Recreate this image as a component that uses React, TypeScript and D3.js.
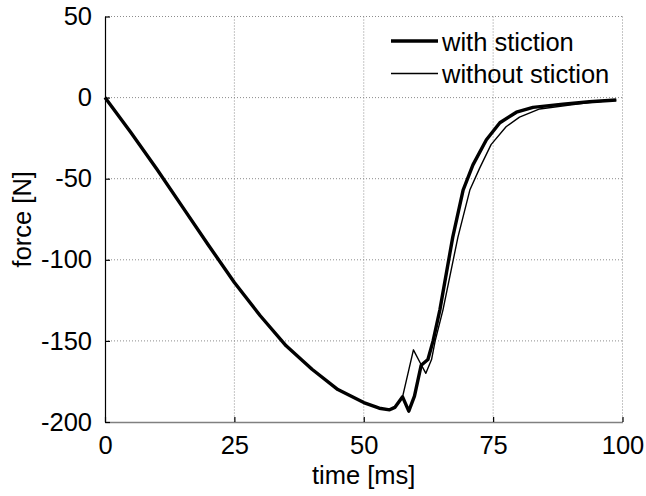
import React from 'react';
import { axisBottom, axisLeft, line, scaleLinear, select } from 'd3';

// with stiction (thick line)
const timeWith = [0, 5, 10, 15, 20, 25, 30, 35, 40, 45, 50, 53, 55, 56, 57.5, 58.7, 59.8, 61.1, 62.4, 63.4, 64.7, 67.2, 69.2, 71.1, 73.7, 76.3, 79.5, 82.7, 88.5, 93.6, 98.8];
const forceWith = [0, -21.5, -44, -67.5, -91, -114, -134.5, -153, -167.5, -180, -188, -191.5, -192.5, -191, -184.5, -193.3, -184, -165, -161.5, -150, -131, -86, -57, -41.5, -26, -15.5, -9, -6, -4, -2.6, -1.5];

// without stiction (thin line)
const timeWithout = [0, 5, 10, 15, 20, 25, 30, 35, 40, 45, 50, 53, 55, 56, 57.5, 59.6, 60.9, 62, 63.1, 63.8, 65.3, 68.2, 70.5, 72.4, 74.6, 77.5, 80.1, 84, 89.8, 93.6, 98.8];
const forceWithout = [0, -21.5, -44, -67.5, -91, -114, -134.5, -153, -167.5, -180, -188, -191.5, -192.5, -191, -184.5, -155.5, -163.5, -170, -161.5, -150, -131, -86, -57, -43.5, -29, -18, -12, -7, -4.6, -3, -1.5];

const xTicks = [0, 25, 50, 75, 100];
const yTicks = [50, 0, -50, -100, -150, -200];
const legendLabels = ['with stiction', 'without stiction'];

const width = 646;
const height = 496;
const marginLeft = 105;
const marginRight = 23.5;
const marginTop = 16.5;
const marginBottom = 74;
const font = 'Arial, "Liberation Sans", Helvetica, sans-serif';
const fontSize = 25.5;

const App = () => {
    const svgRef = React.useRef(null);

    React.useEffect(() => {
        const svgEl = select(svgRef.current);
        svgEl.selectAll('*').remove();

        const innerWidth = width - marginLeft - marginRight;
        const innerHeight = height - marginTop - marginBottom;

        const x = scaleLinear().domain([0, 100]).range([0, innerWidth]);
        const y = scaleLinear().domain([-200, 50]).range([innerHeight, 0]);

        const gEl = svgEl
            .append('g')
            .attr('transform', `translate(${marginLeft},${marginTop})`);

        // dotted grid
        const grid = gEl.append('g').attr('class', 'grid');
        grid.selectAll('.vgrid')
            .data(xTicks.filter((d) => d > 0))
            .enter()
            .append('line')
            .attr('x1', (d) => x(d))
            .attr('x2', (d) => x(d))
            .attr('y1', 0)
            .attr('y2', innerHeight)
            .attr('stroke', '#8c8c8c')
            .attr('stroke-dasharray', '1,2');
        grid.selectAll('.hgrid')
            .data(yTicks.filter((d) => d > -200))
            .enter()
            .append('line')
            .attr('x1', 0)
            .attr('x2', innerWidth)
            .attr('y1', (d) => y(d))
            .attr('y2', (d) => y(d))
            .attr('stroke', '#8c8c8c')
            .attr('stroke-dasharray', '1,2');

        // plain hyphen like the original, not the unicode minus
        const fmt = (d) => String(d);

        // X Axis (ticks inward)
        const xAxisGroup = gEl
            .append('g')
            .attr('transform', `translate(0,${innerHeight})`)
            .call(axisBottom(x).tickValues(xTicks).tickFormat(fmt).tickSizeInner(-5).tickSizeOuter(0).tickPadding(14));
        xAxisGroup.select('.domain').attr('stroke', '#808080').attr('stroke-width', 1.6);
        xAxisGroup.selectAll('line').attr('stroke', '#000').attr('stroke-width', 1.2);
        xAxisGroup.selectAll('text')
            .attr('font-family', font)
            .attr('font-size', fontSize)
            .attr('fill', '#000');

        // Y Axis (ticks inward)
        const yAxisGroup = gEl
            .append('g')
            .call(axisLeft(y).tickValues(yTicks).tickFormat(fmt).tickSizeInner(-5).tickSizeOuter(0).tickPadding(13));
        yAxisGroup.select('.domain').attr('stroke', '#000').attr('stroke-width', 1.2);
        yAxisGroup.selectAll('line').attr('stroke', '#000').attr('stroke-width', 1.2);
        yAxisGroup.selectAll('text')
            .attr('font-family', font)
            .attr('font-size', fontSize)
            .attr('fill', '#000');

        // axis titles
        svgEl.append('text')
            .attr('x', marginLeft + innerWidth / 2)
            .attr('y', 484)
            .attr('text-anchor', 'middle')
            .attr('font-family', font)
            .attr('font-size', fontSize)
            .text('time [ms]');
        svgEl.append('text')
            .attr('transform', `translate(31,${marginTop + innerHeight / 2}) rotate(-90)`)
            .attr('text-anchor', 'middle')
            .attr('font-family', font)
            .attr('font-size', fontSize)
            .text('force [N]');

        // series
        const series = [
            { t: timeWith, f: forceWith, w: 3.4 },
            { t: timeWithout, f: forceWithout, w: 1.4 }
        ];
        const path = line()
            .x((d) => x(d[0]))
            .y((d) => y(d[1]));
        series.forEach((s) => {
            gEl.append('path')
                .datum(s.t.map((t, i) => [t, s.f[i]]))
                .attr('fill', 'none')
                .attr('stroke', '#000')
                .attr('stroke-width', s.w)
                .attr('stroke-linejoin', 'round')
                .attr('d', path);
        });

        // legend, no box
        const legend = svgEl.append('g');
        legendLabels.forEach((label, i) => {
            const ly = 41 + i * 32.5;
            legend.append('line')
                .attr('x1', 391)
                .attr('x2', 438)
                .attr('y1', ly)
                .attr('y2', ly)
                .attr('stroke', '#000')
                .attr('stroke-width', series[i].w);
            legend.append('text')
                .attr('x', 442)
                .attr('y', ly + 9.5)
                .attr('font-family', font)
                .attr('font-size', fontSize)
                .text(label);
        });
    }, []);

    return (
        <svg
            ref={svgRef}
            width={width}
            height={height}
            style={{ position: 'absolute', left: 0, top: 0, background: '#fff' }}
        />
    );
};

export default App;
